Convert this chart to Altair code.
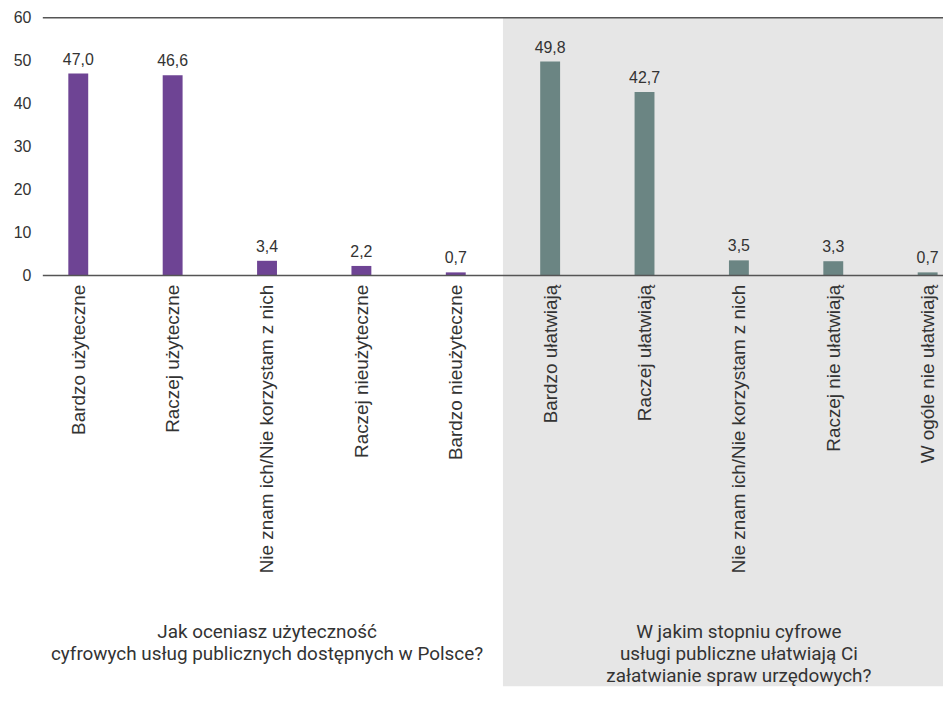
import json
import altair as alt
import pandas as pd

cats_a = ["Bardzo użyteczne", "Raczej użyteczne", "Nie znam ich/Nie korzystam z nich",
          "Raczej nieużyteczne", "Bardzo nieużyteczne"]
vals_a = [47.0, 46.6, 3.4, 2.2, 0.7]
cats_b = ["Bardzo ułatwiają", "Raczej ułatwiają", "Nie znam ich/Nie korzystam z nich",
          "Raczej nie ułatwiają", "W ogóle nie ułatwiają"]
vals_b = [49.8, 42.7, 3.5, 3.3, 0.7]
title_a = "Jak oceniasz użyteczność\ncyfrowych usług publicznych dostępnych w Polsce?"
title_b = "W jakim stopniu cyfrowe\nusługi publiczne ułatwiają Ci\nzałatwianie spraw urzędowych?"
y_ticks = [0, 10, 20, 30, 40, 50, 60]

labels = cats_a + cats_b
n = len(labels)
na = len(cats_a)
df = pd.DataFrame({
    "id": list(range(n)),
    "label": labels,
    "value": vals_a + vals_b,
    "group": ["A"] * na + ["B"] * len(cats_b),
})
df["text"] = [f"{v:.1f}".replace(".", ",") for v in df["value"]]

df_bg = pd.DataFrame({"id": [na - 0.5]})
df_rules = pd.DataFrame({"v": [0, 60]})
df_titles = pd.DataFrame({"id": [(na - 1) / 2, na + (len(cats_b) - 1) / 2], "t": [title_a, title_b]})

W, H = 905, 259
TXT = "#333333"

label_expr = json.dumps(labels, ensure_ascii=False) + "[datum.value]"
xscale = alt.Scale(domain=[-0.323, 9.11], nice=False, zero=False)
xaxis = alt.Axis(values=list(range(n)), labelExpr=label_expr, labelAngle=270, domain=False,
                 ticks=False, grid=False, labelPadding=9, labelFont="Liberation Sans",
                 labelFontSize=19, labelColor=TXT, title=None, labelLimit=400,
                 labelOverlap=False, labelFlush=False, labelBound=False, zindex=2)
yscale = alt.Scale(domain=[0, 60], nice=False)
yaxis = alt.Axis(values=y_ticks, grid=False, domain=False, ticks=False, labelPadding=12,
                 labelFont="Liberation Sans", labelFontSize=16, labelColor=TXT, title=None,
                 minExtent=32, maxExtent=32, zindex=2)


def X():
    return alt.X("id:Q", scale=xscale, axis=xaxis)


bg = alt.Chart(df_bg).mark_rect(color="#e6e6e6").encode(
    x=X(), x2=alt.value(W), y=alt.value(0), y2=alt.value(672)
)

bars = alt.Chart(df).mark_bar(width=20).encode(
    x=X(),
    y=alt.Y("value:Q", scale=yscale, axis=yaxis),
    color=alt.Color("group:N", scale=alt.Scale(domain=["A", "B"], range=["#6e4494", "#6b8583"]),
                    legend=None),
)

vals = alt.Chart(df).mark_text(baseline="bottom", dy=-6, fontSize=16, font="Liberation Sans",
                               color=TXT).encode(
    x=X(), y=alt.Y("value:Q", scale=yscale, axis=yaxis), text="text:N"
)

rules = alt.Chart(df_rules).mark_rule(color="#555555", strokeWidth=1.5).encode(
    y=alt.Y("v:Q", scale=yscale, axis=yaxis), x=alt.value(0), x2=alt.value(W)
)

titles = alt.Chart(df_titles).mark_text(lineBreak="\n", baseline="top", fontSize=19,
                                        font="Roboto", color=TXT, lineHeight=22).encode(
    x=X(), y=alt.value(609), text="t:N"
)

chart = alt.layer(bg, bars, vals, rules, titles).properties(
    width=W, height=H,
    padding={"left": 3, "top": 0, "right": 0, "bottom": 0},
    background="white",
).configure_view(stroke=None)

chart.save("out.html", embed_options={"renderer": "svg", "actions": False})
